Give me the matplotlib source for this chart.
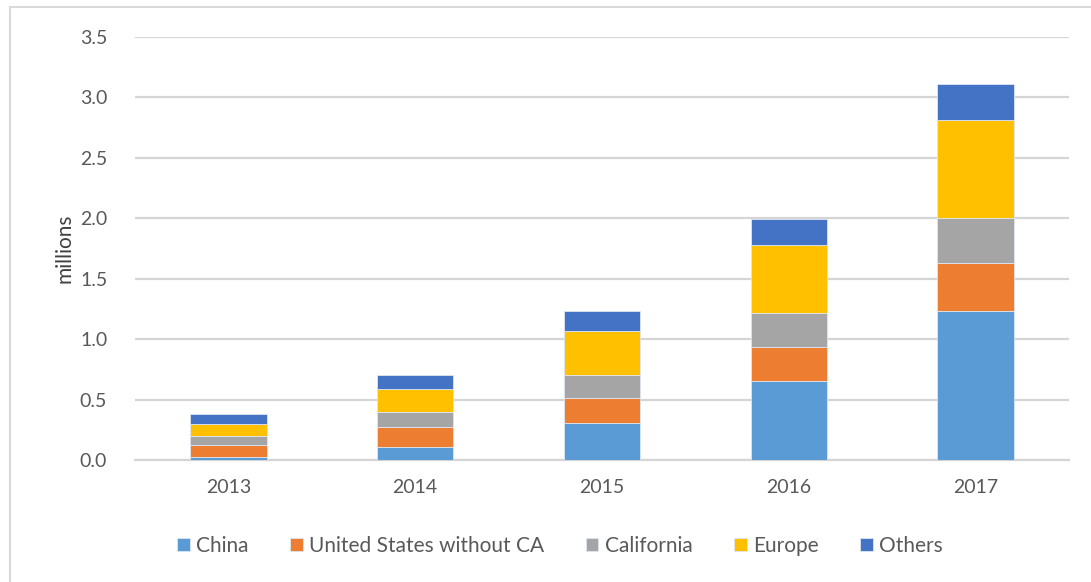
import matplotlib
matplotlib.use("Agg")
import matplotlib.pyplot as plt
import numpy as np
from matplotlib.patches import Rectangle

years = ["2013", "2014", "2015", "2016", "2017"]
series_names = ["China", "United States without CA", "California", "Europe", "Others"]
china = [0.025, 0.11, 0.31, 0.654, 1.235]
us_without_ca = [0.095, 0.16, 0.205, 0.283, 0.392]
california = [0.076, 0.127, 0.188, 0.277, 0.373]
europe = [0.104, 0.19, 0.362, 0.566, 0.813]
others = [0.078, 0.119, 0.17, 0.21, 0.295]
colors = ["#5B9BD5", "#ED7D31", "#A5A5A5", "#FFC000", "#4472C4"]

plt.rcParams['font.family'] = ['Lato', 'DejaVu Sans']

fig = plt.figure(figsize=(10.91, 5.82), dpi=100)
# outer chart frame (cut at right/bottom like the screenshot)
fig.patches.append(Rectangle((10 / 1091, -0.1), 1.2, 1 - 7 / 582 + 0.1,
                             transform=fig.transFigure, fill=False,
                             edgecolor="#D9D9D9", linewidth=1.5))

ax = fig.add_axes([135 / 1091, 1 - 460 / 582, (1069 - 135) / 1091, (460 - 37) / 582])

x = np.arange(len(years))
bottom = np.zeros(len(years))
for name, vals, c in zip(series_names, [china, us_without_ca, california, europe, others], colors):
    ax.bar(x, vals, 0.41, bottom=bottom, color=c, label=name,
           edgecolor="#DDE6F2", linewidth=0.6, zorder=3)
    bottom += np.array(vals)

ax.set_xlim(-0.5, 4.5)
ax.set_ylim(0, 3.5)
ax.set_yticks(np.arange(0, 3.51, 0.5))
ax.set_yticklabels(["{0:.1f}".format(v) for v in np.arange(0, 3.51, 0.5)])
ax.set_xticks(x)
ax.set_xticklabels(years)
ax.yaxis.grid(True, color="#D5D5D5", linewidth=1.6, zorder=0)
ax.set_axisbelow(True)
for s in ["top", "right", "left"]:
    ax.spines[s].set_visible(False)
ax.spines["bottom"].set_color("#D5D5D5")
ax.spines["bottom"].set_linewidth(1.6)
ax.tick_params(axis="both", length=0, labelsize=14, labelcolor="#595959")
ax.tick_params(axis="y", pad=20)
ax.tick_params(axis="x", pad=14)
ax.set_ylabel("millions", fontsize=15, color="#404040", labelpad=4)

ax.legend(loc="upper center", bbox_to_anchor=(0.455, -0.135), ncol=5, frameon=False,
          fontsize=15, handlelength=0.6, handleheight=0.6, handletextpad=0.3,
          columnspacing=2.0, labelcolor="#595959")

fig.savefig("out.png", dpi=100)
